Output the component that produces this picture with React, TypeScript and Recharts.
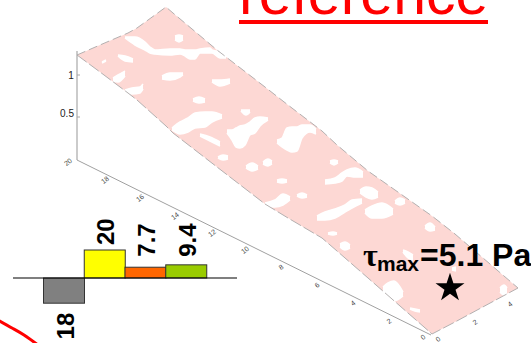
import React from "react";
import { Area, Bar, BarChart, ComposedChart, LabelList, Line, ReferenceLine, Scatter, Symbols, XAxis, YAxis } from "recharts";

const W = 531;
const H = 343;

// Bar glyph
const barCategories = ["a", "b", "c", "d"];
const barValues = [-18, 20, 7.7, 9.4];
const barLabels = ["18", "20", "7.7", "9.4"];
const barColors = ["#808080", "#ffff00", "#ff6600", "#99cc00"];
const barRows = barCategories.map((c, i) => ({ c, v: barValues[i], label: barLabels[i], fill: barColors[i] }));
const labelGaps = [9.5, 5, 10.5, 8];

// Projected 3D surface: [x, upper edge, lower edge] on the plot's picture scale
const surfaceRows = [
  [77, 55, 55], [100, 45, 72], [128, 33, 93], [137, 28, 100], [166, 7, 126], [173, 13, 133], [217, 50, 167],
  [265, 87, 204], [288, 105, 218], [322, 131, 238], [337, 145, 251], [368, 171, 278], [432, 216, 334],
  [455, 234, 322], [518, 288, 288],
].map(([x, upper, lower]) => ({ x, upper, lower, band: [upper, lower] }));

// Uncoloured patches of the surface: [x, top, bottom]
const patchA = [[125, 37, 38], [135, 37, 45], [145, 42, 50], [150, 47, 53], [155, 50, 54], [170, 49, 55], [180, 49, 54], [185, 50, 56], [190, 50, 59], [195, 50, 59], [200, 49, 53], [210, 48, 53], [212, 50, 53], [220, 52, 58], [226, 56, 58]];
const patchB = [[175, 36, 40], [179, 35, 42], [183, 36, 40]];
const patchC = [[118, 55, 56], [125, 56, 61], [133, 59, 62]];
const patchD = [[113, 78, 81], [118, 75, 82], [125, 71, 76]];
const patchE = [[125, 90, 92], [132, 88, 94], [140, 87, 93], [143, 84, 89]];
const patchF = [[162, 76, 79], [170, 73, 80], [180, 73, 77], [183, 73, 75]];
const patchG = [[212, 80, 82], [220, 80, 86], [230, 79, 83]];
const patchH = [[193, 99, 101], [199, 97, 103], [205, 99, 102]];
const patchI = [[102, 62, 63], [106, 60, 61]];
const patchJ = [[172, 128, 130], [180, 122, 134], [188, 118, 132], [195, 113, 128], [205, 112, 127], [212, 112, 122], [222, 115, 118]];
const patchK = [[200, 134, 136], [210, 137, 141], [220, 142, 146]];
const patchL = [[227, 130, 133], [232, 130, 140], [236, 128, 147], [240, 126, 148], [245, 125, 145], [250, 122, 135], [255, 118, 133], [260, 117, 126], [268, 118, 120]];
const patchM = [[241, 110, 111], [246, 110, 115], [250, 110, 112]];
const patchN = [[218, 157, 158], [223, 155, 160], [228, 156, 159]];
const patchO = [[246, 166, 168], [252, 163, 171], [258, 166, 169]];
const patchP = [[263, 162, 164], [268, 159, 166], [272, 161, 164]];
const patchQ = [[277, 180, 182], [282, 179, 183], [287, 180, 182]];
const patchR = [[277, 140, 143], [282, 138, 147], [287, 128, 150], [292, 127, 152], [297, 127, 151], [302, 125, 138], [310, 125, 132], [316, 129, 134]];
const patchS = [[330, 161, 163], [334, 160, 165], [338, 161, 163]];
const patchT = [[325, 180, 184], [335, 178, 183], [342, 173, 181], [347, 170, 176], [355, 168, 177], [363, 172, 177]];
const patchU = [[360, 190, 193], [366, 187, 197], [372, 188, 199], [378, 192, 197]];
const patchV = [[365, 210, 213], [372, 206, 218], [382, 203, 218], [393, 209, 214]];
const patchW = [[317, 216, 220], [325, 212, 220], [335, 209, 218], [345, 205, 212], [352, 200, 208], [362, 199, 203]];
const patchX = [[395, 201, 203], [400, 198, 205], [405, 200, 203]];
const patchY = [[297, 195, 196], [302, 193, 198], [307, 195, 197]];
const patchZ = [[265, 203, 205], [275, 200, 207], [283, 194, 205], [290, 197, 200]];
const patchAA = [[328, 233, 234], [333, 232, 235], [337, 233, 234]];
const patchAB = [[425, 226, 228], [430, 223, 231], [435, 227, 230]];
const patchAC = [[340, 244, 247], [345, 242, 250], [350, 245, 248]];
const patchAD = [[403, 250, 252], [408, 252, 258], [413, 255, 260]];
const patchAE = [[383, 287, 291], [388, 283, 299], [394, 281, 301], [403, 292, 296]];
const patchAF = [[500, 288, 292], [504, 285, 295], [507, 288, 293]];
const patchAG = [[410, 308, 309], [415, 309, 311], [420, 310, 312]];
const patchAH = [[452, 268, 270], [456, 267, 271]];
const patches = [patchA, patchB, patchC, patchD, patchE, patchF, patchG, patchH, patchI, patchJ, patchK, patchL, patchM, patchN, patchO, patchP, patchQ, patchR, patchS, patchT, patchU, patchV, patchW, patchX, patchY, patchZ, patchAA, patchAB, patchAC, patchAD, patchAE, patchAF, patchAG, patchAH]
  .map((p) => p.map(([x, a, b]) => ({ x, band: [a, b] })));

// Box axes
const verticalAxis = [{ x: 77, y: 51 }, { x: 77, y: 160 }];
const floorAxis = [{ x: 77, y: 160 }, { x: 431, y: 335 }];
const tick1 = [{ x: 77, y: 75 }, { x: 80, y: 75 }];
const tick05 = [{ x: 77, y: 117 }, { x: 80, y: 117 }];
const redArc = [{ x: -2, y: 320 }, { x: 12, y: 328 }, { x: 24, y: 335 }, { x: 38, y: 345 }];
const titleRule = [{ x: 239, y: 22 }, { x: 488, y: 22 }];

// Tick labels
const wallTicks = [{ x: 71, y: 75, t: "1" }, { x: 67, y: 113, t: "0.5" }];
const floorTicks = [
  { x: 68, y: 162, t: "20" }, { x: 105, y: 180, t: "18" }, { x: 140, y: 198, t: "16" }, { x: 175, y: 216, t: "14" },
  { x: 212, y: 233, t: "12" }, { x: 245, y: 250, t: "10" }, { x: 281, y: 267, t: "8" }, { x: 317, y: 285, t: "6" },
  { x: 353, y: 303, t: "4" }, { x: 389, y: 321, t: "2" }, { x: 423, y: 337, t: "0" },
  { x: 438, y: 339, t: "0" }, { x: 475, y: 322, t: "2" }, { x: 510, y: 304, t: "4" },
];

// Annotations
const titleAnchor = [{ x: 239, y: 14, t: "reference" }];
const tauAnchor = [{ x: 363, y: 266 }];
const starPoint = [{ x: 450, y: 288 }];

const SANS = "'Liberation Sans', Arial, sans-serif";

const WallTick = (p: any) => (
  <text x={p.cx} y={p.cy} textAnchor="middle" dominantBaseline="central" fontFamily={SANS} fontSize={10} fill="#222">{p.payload.t}</text>
);
const FloorTick = (p: any) => (
  <text x={p.cx} y={p.cy} textAnchor="middle" dominantBaseline="central" fontFamily={SANS} fontSize={7} fill="#444"
    transform={`rotate(-38 ${p.cx} ${p.cy})`}>{p.payload.t}</text>
);
const Title = (p: any) => (
  <text x={p.cx} y={p.cy} fontFamily={SANS} fontSize={59} fill="#ff0000">{p.payload.t}</text>
);
const Tau = (p: any) => (
  <text x={p.cx} y={p.cy} fontFamily={SANS} fontWeight="bold" fill="#000">
    <tspan fontFamily="'Liberation Serif', serif" fontSize={32}>τ</tspan>
    <tspan x={p.cx + 14} dy={5} fontSize={21}>max</tspan>
    <tspan x={p.cx + 57} dy={-5} fontSize={32}>=5.1 Pa</tspan>
  </text>
);
const Star = (p: any) => <Symbols type="star" size={260} cx={p.cx} cy={p.cy} fill="#000" />;

const BarValue = (p: any) => {
  const { x, y, width, height, value, index } = p;
  const cx = x + width / 2 + 1;
  const negative = barRows[index]?.v < 0;
  const gap = labelGaps[index] ?? 5;
  const edge = negative ? Math.max(y, y + height) + gap : Math.min(y, y + height) - gap;
  return (
    <text transform={`translate(${cx} ${edge}) rotate(-90)`}
      textAnchor={negative ? "end" : "start"} dominantBaseline="central"
      fontFamily={SANS} fontWeight="bold" fontSize={24} fill="#000">{value}</text>
  );
};

export default function App() {
  return (
    <div style={{ position: "absolute", left: 0, top: 0, width: W, height: H, overflow: "hidden", background: "#fff" }}>
      <div style={{ position: "absolute", left: 0, top: 0 }}>
        <ComposedChart width={W} height={H} margin={{ top: 0, right: 0, bottom: 0, left: 0 }} data={surfaceRows}>
          <XAxis hide type="number" dataKey="x" domain={[0, W]} allowDataOverflow />
          <YAxis hide type="number" domain={[0, H]} reversed allowDataOverflow />
          <Area data={surfaceRows} dataKey="band" type="linear" fill="#fdd8d4" fillOpacity={1} stroke="none" isAnimationActive={false} dot={false} activeDot={false} />
          {patches.map((p, i) => (
            <Area key={i} data={p} dataKey="band" type="monotone" fill="#ffffff" fillOpacity={1} stroke="#ffffff" strokeWidth={1.5} isAnimationActive={false} dot={false} activeDot={false} />
          ))}
          <Line data={surfaceRows} dataKey="upper" type="linear" stroke="#b4b0b0" strokeWidth={1} strokeDasharray="9 4" dot={false} activeDot={false} isAnimationActive={false} />
          <Line data={surfaceRows} dataKey="lower" type="linear" stroke="#b4b0b0" strokeWidth={1} strokeDasharray="12 3" dot={false} activeDot={false} isAnimationActive={false} />
          <Line data={verticalAxis} dataKey="y" stroke="#a8a8a8" strokeWidth={1.2} dot={false} activeDot={false} isAnimationActive={false} />
          <Line data={floorAxis} dataKey="y" stroke="#a0a0a0" strokeWidth={1} dot={false} activeDot={false} isAnimationActive={false} />
          <Line data={tick1} dataKey="y" stroke="#a8a8a8" strokeWidth={1} dot={false} activeDot={false} isAnimationActive={false} />
          <Line data={tick05} dataKey="y" stroke="#a8a8a8" strokeWidth={1} dot={false} activeDot={false} isAnimationActive={false} />
          <Line data={redArc} dataKey="y" type="natural" stroke="#ff0000" strokeWidth={3} dot={false} activeDot={false} isAnimationActive={false} />
          <Line data={titleRule} dataKey="y" stroke="#ff0000" strokeWidth={4} dot={false} activeDot={false} isAnimationActive={false} />
          <Scatter data={wallTicks} dataKey="y" shape={WallTick} isAnimationActive={false} />
          <Scatter data={floorTicks} dataKey="y" shape={FloorTick} isAnimationActive={false} />
          <Scatter data={titleAnchor} dataKey="y" shape={Title} isAnimationActive={false} />
          <Scatter data={starPoint} dataKey="y" shape={Star} isAnimationActive={false} />
          <Scatter data={tauAnchor} dataKey="y" shape={Tau} isAnimationActive={false} />
        </ComposedChart>
      </div>
      <div style={{ position: "absolute", left: 13, top: 200 }}>
        <BarChart width={224} height={143} data={barRows} margin={{ top: 0, right: 0, bottom: 0, left: 0 }} barCategoryGap={0} style={{ overflow: "visible" }}>
          <XAxis hide dataKey="c" padding={{ left: 30.5, right: 30.5 }} />
          <YAxis hide type="number" domain={[-46.43, 55.71]} allowDataOverflow />
          <Bar dataKey="v" isAnimationActive={false} fill="#808080" shape={(p: any) => (
            <rect x={p.x} y={Math.min(p.y, p.y + p.height)} width={p.width} height={Math.abs(p.height)} fill={p.payload.fill} stroke="#333333" strokeWidth={1} />
          )}>
            <LabelList dataKey="label" content={BarValue} />
          </Bar>
          <ReferenceLine y={0} stroke="#000" strokeWidth={1.2} />
        </BarChart>
      </div>
    </div>
  );
}
